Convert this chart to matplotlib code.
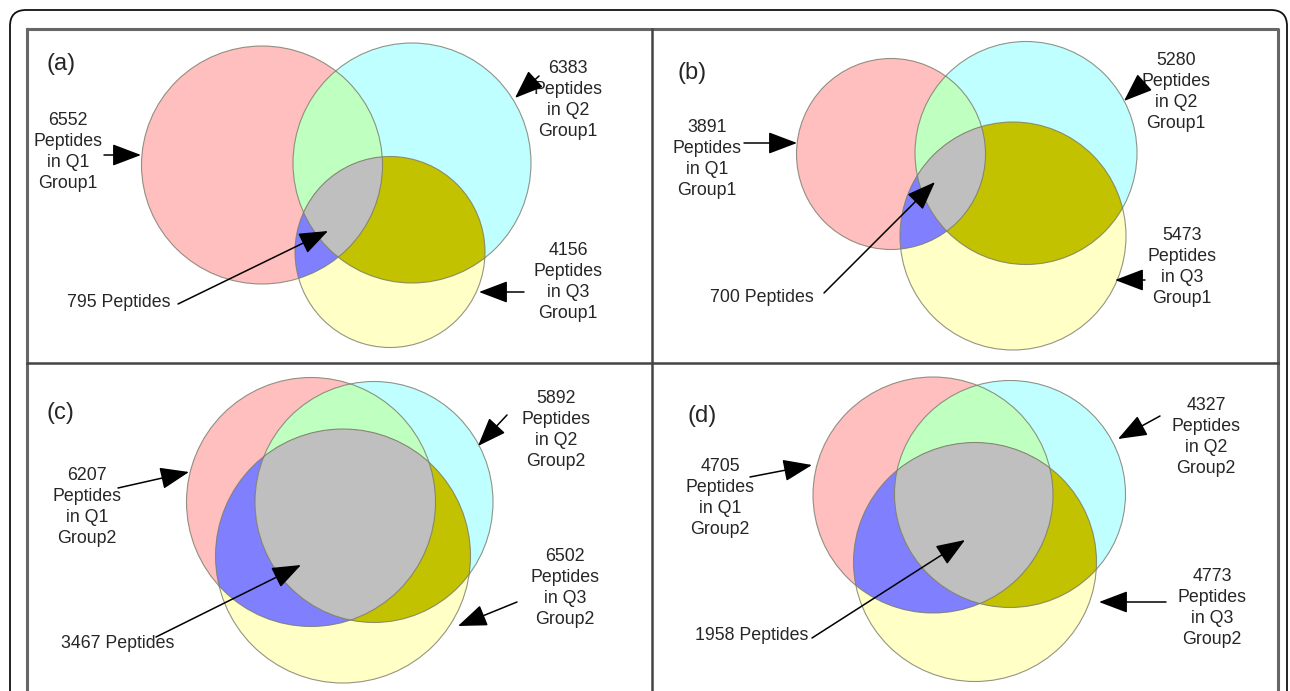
import matplotlib
matplotlib.use("Agg")
import matplotlib.pyplot as plt
import numpy as np
from matplotlib.patches import Ellipse, Polygon, FancyBboxPatch

plt.rcParams['font.family'] = ['Liberation Sans', 'DejaVu Sans']

# Peptide counts per panel
panel_tags = ['(a)', '(b)', '(c)', '(d)']
q1_counts = [6552, 3891, 6207, 4705]
q2_counts = [6383, 5280, 5892, 4327]
q3_counts = [4156, 5473, 6502, 4773]
common_counts = [795, 700, 3467, 1958]
group_names = ['Group1', 'Group1', 'Group2', 'Group2']

# ellipse layout (cx, cy, width, height) in pixel units: Q1, Q2, Q3
shapes = [
    [(262, 165, 241, 238), (412, 163, 238, 240), (390, 252, 190, 191)],
    [(891, 154, 189, 191), (1026, 153, 222, 223), (1013, 236, 226, 228)],
    [(311, 502, 249, 249), (374, 502, 238, 241), (343, 556, 255, 254)],
    [(933, 495, 240, 236), (1010, 494, 231, 227), (975, 562, 243, 239)],
]
# text anchors and arrow (start, end) for Q1, Q2, Q3, common
tag_pos = [(61, 64), (692, 73), (60, 413), (702, 416)]
label_pos = [
    [(68, 152), (568, 100), (568, 282), (119, 302)],
    [(707, 159), (1176, 92), (1182, 267), (762, 297)],
    [(87, 507), (556, 430), (565, 588), (118, 643)],
    [(720, 498), (1206, 437), (1212, 608), (752, 635)],
]
arrows = [
    [((104, 155), (141, 155)), ((539, 76), (515, 98)), ((524, 292), (479, 292)), ((178, 304), (328, 231))],
    [((744, 143), (797, 143)), ((1145, 82), (1124, 101)), ((1145, 280), (1115, 280)), ((824, 293), (935, 182))],
    [((118, 488), (189, 472)), ((507, 415), (478, 446)), ((517, 602), (458, 626)), ((156, 637), (301, 565))],
    [((750, 477), (812, 465)), ((1160, 416), (1118, 439)), ((1166, 602), (1099, 602)), ((812, 638), (965, 540))],
]

fills = ['#ffbfbf', '#bfffff', '#ffffc6']
pair_fills = {(0, 1): '#bfffbf', (0, 2): '#8080ff', (1, 2): '#c2c200'}
triple_fill = '#bfbfbf'
text_color = '#262626'


def inside(px, py, e):
    cx, cy, w, h = e
    return ((px - cx) / (w / 2)) ** 2 + ((py - cy) / (h / 2)) ** 2 <= 1 + 1e-9


def region(ellipses):
    # ellipses are convex, so the overlap outline is the boundary points lying in all of them
    t = np.linspace(0, 2 * np.pi, 1440, endpoint=False)
    pts = []
    for i, (cx, cy, w, h) in enumerate(ellipses):
        x = cx + w / 2 * np.cos(t)
        y = cy + h / 2 * np.sin(t)
        keep = np.ones_like(t, dtype=bool)
        for j, other in enumerate(ellipses):
            if j != i:
                keep &= inside(x, y, other)
        pts.append(np.column_stack([x[keep], y[keep]]))
    pts = np.vstack(pts)
    c = pts.mean(axis=0)
    order = np.argsort(np.arctan2(pts[:, 1] - c[1], pts[:, 0] - c[0]))
    return pts[order]


fig = plt.figure(figsize=(12.9, 6.91), dpi=100)
ax = fig.add_axes([0, 0, 1, 1])
ax.set_xlim(0, 1290)
ax.set_ylim(691, 0)
ax.axis('off')

# outer rounded box and the panel frame
ax.add_patch(FancyBboxPatch((10, 10), 1277, 720, boxstyle='round,pad=0,rounding_size=16',
                            fill=False, ec='#111111', lw=1.3, clip_on=False))
ax.plot([27, 1278, 1278], [29, 29, 700], color='#666666', lw=2.2, solid_capstyle='butt')
ax.plot([27, 27], [29, 700], color='#666666', lw=2.2)
ax.plot([652, 652], [29, 700], color='#444444', lw=1.8)
ax.plot([27, 1278], [363, 363], color='#444444', lw=1.8)

for k in range(4):
    ells = shapes[k]
    for e, col in zip(ells, fills):
        ax.add_patch(Ellipse(e[:2], e[2], e[3], fc=col, ec='none'))
    for (i, j), col in pair_fills.items():
        ax.add_patch(Polygon(region([ells[i], ells[j]]), closed=True, fc=col, ec='none'))
    ax.add_patch(Polygon(region(ells), closed=True, fc=triple_fill, ec='none'))
    for e in ells:
        ax.add_patch(Ellipse(e[:2], e[2], e[3], fill=False, ec='#7a7a6a', lw=0.8, alpha=0.8))

    ax.text(*tag_pos[k], panel_tags[k], fontsize=17, color=text_color, ha='center', va='center')
    texts = [
        f'{q1_counts[k]}\nPeptides\nin Q1\n{group_names[k]}',
        f'{q2_counts[k]}\nPeptides\nin Q2\n{group_names[k]}',
        f'{q3_counts[k]}\nPeptides\nin Q3\n{group_names[k]}',
        f'{common_counts[k]} Peptides',
    ]
    for txt, pos in zip(texts, label_pos[k]):
        ax.text(*pos, txt, fontsize=12.8, color=text_color, ha='center', va='center',
                linespacing=1.3)
    for start, end in arrows[k]:
        ax.annotate('', xy=end, xytext=start,
                    arrowprops=dict(arrowstyle='-|>,head_length=1.0,head_width=0.38',
                                    color='black', lw=1.1, shrinkA=0, shrinkB=0,
                                    mutation_scale=18))

fig.savefig('out.png', dpi=100)
